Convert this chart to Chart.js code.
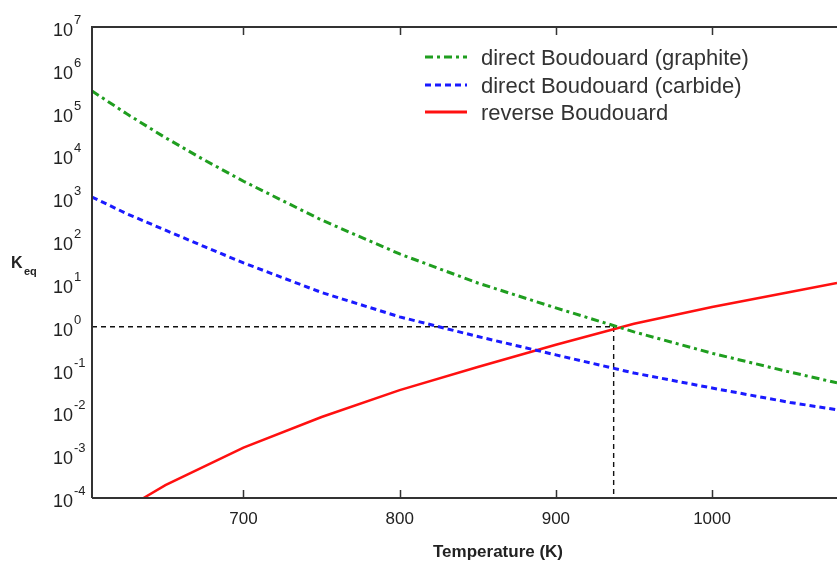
<!DOCTYPE html>
<html>
<head>
<meta charset="utf-8">
<script src="https://cdn.jsdelivr.net/npm/chart.js@4/dist/chart.umd.min.js"></script>
<style>
  html, body { margin: 0; padding: 0; background: #fff; }
  canvas { display: block; }
</style>
</head>
<body>
<canvas id="keqChart" width="837" height="563"></canvas>
<script>
// Temperatures (K) for the two direct Boudouard curves
const temps = [603, 625, 650, 675, 700, 750, 800, 850, 900, 950, 1000, 1050, 1080];
const graphiteK = [3.2e5, 9.5e4, 2.6e4, 7.8e3, 2.5e3, 310, 50, 10.5, 2.75, 0.76, 0.24, 0.087, 0.049];
const carbideK = [1.07e3, 440, 180, 74, 31, 6.3, 1.7, 0.59, 0.22, 0.083, 0.037, 0.017, 0.0115];

// Reverse reaction starts inside the plotted range
const reverseTemps = [636, 650, 700, 750, 800, 850, 900, 950, 1000, 1050, 1080];
const reverseK = [1.0e-4, 2.0e-4, 1.5e-3, 7.8e-3, 0.033, 0.115, 0.38, 1.17, 2.9, 6.5, 10.5];

// Crossing point marked by the dashed guide lines
const crossT = 937;
const crossK = 1;

const xTicks = [700, 800, 900, 1000];
const yExponents = [7, 6, 5, 4, 3, 2, 1, 0, -1, -2, -3, -4];
const seriesNames = [
  "direct Boudouard (graphite)",
  "direct Boudouard (carbide)",
  "reverse Boudouard"
];

const xMin = 603, xMax = 1080, yMin = 1e-4, yMax = 1e7;

const toPoints = (xs, ys) => xs.map((x, i) => ({ x: x, y: ys[i] }));

const axisColor = "#333";
const textColor = "#222";

// Frame, ticks, labels and legend drawn on top of the plot
const decorPlugin = {
  id: "decor",
  afterDatasetsDraw(chart) {
    const { ctx, chartArea: a, scales } = chart;
    const xs = scales.x, ys = scales.y;
    ctx.save();

    // frame: left, top, bottom (right side runs off the canvas)
    ctx.strokeStyle = axisColor;
    ctx.lineWidth = 2;
    ctx.beginPath();
    ctx.moveTo(a.left, a.bottom);
    ctx.lineTo(a.left, a.top);
    ctx.lineTo(a.right + 2, a.top);
    ctx.moveTo(a.left, a.bottom);
    ctx.lineTo(a.right + 2, a.bottom);
    ctx.stroke();

    // inward x ticks on bottom and top
    ctx.lineWidth = 1.5;
    xTicks.forEach((t) => {
      const px = Math.round(xs.getPixelForValue(t)) + 0.5;
      ctx.beginPath();
      ctx.moveTo(px, a.bottom);
      ctx.lineTo(px, a.bottom - 8);
      ctx.moveTo(px, a.top);
      ctx.lineTo(px, a.top + 8);
      ctx.stroke();
    });

    // x tick labels
    ctx.fillStyle = textColor;
    ctx.font = "17px 'Liberation Sans', Arial, sans-serif";
    ctx.textAlign = "center";
    ctx.textBaseline = "middle";
    xTicks.forEach((t) => {
      ctx.fillText(String(t), xs.getPixelForValue(t), a.bottom + 21);
    });

    // y tick labels as powers of ten
    yExponents.forEach((e) => {
      const py = ys.getPixelForValue(Math.pow(10, e));
      ctx.textAlign = "left";
      ctx.textBaseline = "alphabetic";
      ctx.font = "18px 'Liberation Sans', Arial, sans-serif";
      ctx.fillText("10", 53, py + 9);
      const w = ctx.measureText("10").width;
      ctx.font = "13px 'Liberation Sans', Arial, sans-serif";
      ctx.fillText(String(e), 53 + w + 1, py - 3);
    });

    // axis titles
    ctx.font = "bold 17px 'Liberation Sans', Arial, sans-serif";
    ctx.textAlign = "center";
    ctx.textBaseline = "middle";
    ctx.fillText("Temperature (K)", 498, 552);

    ctx.textAlign = "left";
    ctx.textBaseline = "alphabetic";
    ctx.font = "bold 16px 'Liberation Sans', Arial, sans-serif";
    ctx.fillText("K", 11, 268);
    ctx.font = "bold 11px 'Liberation Sans', Arial, sans-serif";
    ctx.fillText("eq", 24, 275);

    // legend inside the plot
    const rows = [57, 85, 112];
    chart.data.datasets.slice(0, 3).forEach((ds, i) => {
      const y = rows[i];
      ctx.strokeStyle = ds.borderColor;
      ctx.lineWidth = 3;
      ctx.setLineDash(ds.borderDash || []);
      ctx.beginPath();
      ctx.moveTo(425, y);
      ctx.lineTo(467, y);
      ctx.stroke();
      ctx.setLineDash([]);
      ctx.fillStyle = "#333";
      ctx.font = "22px 'Liberation Sans', Arial, sans-serif";
      ctx.textAlign = "left";
      ctx.textBaseline = "middle";
      ctx.fillText(ds.label, 481, y + 2);
    });

    ctx.restore();
  }
};

new Chart(document.getElementById("keqChart").getContext("2d"), {
  type: "line",
  data: {
    datasets: [
      {
        label: seriesNames[0],
        data: toPoints(temps, graphiteK),
        borderColor: "#1f9e1f",
        borderWidth: 3,
        borderDash: [8, 4, 3, 4]
      },
      {
        label: seriesNames[1],
        data: toPoints(temps, carbideK),
        borderColor: "#1a1aff",
        borderWidth: 3,
        borderDash: [6, 4]
      },
      {
        label: seriesNames[2],
        data: toPoints(reverseTemps, reverseK),
        borderColor: "#ff1010",
        borderWidth: 2.5
      },
      {
        label: "guide",
        data: [{ x: xMin, y: crossK }, { x: crossT, y: crossK }, { x: crossT, y: yMin }],
        borderColor: "#111",
        borderWidth: 1.4,
        borderDash: [5, 4]
      }
    ]
  },
  options: {
    responsive: false,
    animation: false,
    layout: { padding: { left: 92, top: 27, right: 0, bottom: 65 } },
    elements: { point: { radius: 0 }, line: { tension: 0, fill: false } },
    scales: {
      x: { type: "linear", min: xMin, max: xMax, display: false },
      y: { type: "logarithmic", min: yMin, max: yMax, display: false }
    },
    plugins: {
      legend: { display: false },
      tooltip: { enabled: false }
    }
  },
  plugins: [decorPlugin]
});
</script>
</body>
</html>
